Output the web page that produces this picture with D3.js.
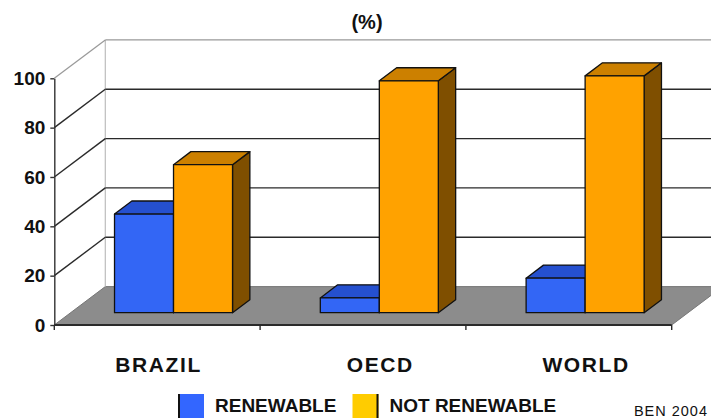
<!DOCTYPE html>
<html>
<head>
<meta charset="utf-8">
<script src="https://cdn.jsdelivr.net/npm/d3@7"></script>
<style>
  html, body { margin: 0; padding: 0; background: #fff; }
  svg { display: block; font-family: "Liberation Sans", Arial, sans-serif; }
</style>
</head>
<body>
<svg id="chart" width="711" height="418"></svg>
<script>
// ---- data ----
const categories = ["BRAZIL", "OECD", "WORLD"];
const series = ["RENEWABLE", "NOT RENEWABLE"];
const renewable = [40, 6, 14];
const notRenewable = [60, 94, 96];
const yTicks = [0, 20, 40, 60, 80, 100];
const titleText = "(%)";
const sourceText = "BEN 2004";

// ---- layout ----
const W = 711, H = 418;
const svg = d3.select("#chart");
const DX = 51, DY = 38.4;          // depth offset of back wall
const d0 = 0.32, d1 = 0.66;        // bar front / back depth fractions

const y = d3.scaleLinear().domain([0, 100]).range([325, 78.3]);
const x0 = d3.scaleBand().domain(categories).range([54.3, 671.7]).padding(0);
const x1 = d3.scaleBand().domain(series).range([0, x0.bandwidth()]).paddingInner(0).paddingOuter(0.744);

const P = (x, v, d) => [x + d * DX, y(v) - d * DY];
const poly = pts => pts.map(p => p.join(",")).join(" ");

const colors = {
  "RENEWABLE": { front: "#3366f5", top: "#2550cf", side: "#1a3a99", legend: "#3366ff" },
  "NOT RENEWABLE": { front: "#ffa200", top: "#cc8000", side: "#7f4f00", legend: "#ffcc00" }
};

const xL = x0.range()[0], xR = x0.range()[1];

svg.append("defs").append("clipPath").attr("id", "clip")
  .append("rect").attr("x", 0).attr("y", 0).attr("width", W).attr("height", H);

const g = svg.append("g").attr("clip-path", "url(#clip)");

// floor
g.append("polygon")
  .attr("points", poly([P(xL, 0, 0), P(xR, 0, 0), P(xR, 0, 1), P(xL, 0, 1)]))
  .attr("fill", "#8c8c8c").attr("stroke", "#777").attr("stroke-width", 1);

// back wall left edge
g.append("line")
  .attr("x1", P(xL, 0, 1)[0]).attr("y1", P(xL, 0, 1)[1])
  .attr("x2", P(xL, 100, 1)[0]).attr("y2", P(xL, 100, 1)[1])
  .attr("stroke", "#bdbdbd").attr("stroke-width", 1.2);

// gridlines (left wall diagonal + back wall horizontal)
yTicks.filter(t => t > 0).forEach(t => {
  const col = t === 100 ? "#999" : "#2a2a2a";
  const sw = t === 100 ? 1.2 : 1.4;
  g.append("line")
    .attr("x1", P(xL, t, 0)[0]).attr("y1", P(xL, t, 0)[1])
    .attr("x2", P(xL, t, 1)[0]).attr("y2", P(xL, t, 1)[1])
    .attr("stroke", col).attr("stroke-width", sw);
  g.append("line")
    .attr("x1", P(xL, t, 1)[0]).attr("y1", P(xL, t, 1)[1])
    .attr("x2", W + 5).attr("y2", P(xL, t, 1)[1])
    .attr("stroke", col).attr("stroke-width", sw);
});

// bars
const data = categories.map((c, i) => ({ c, vals: [
  { s: series[0], v: renewable[i] },
  { s: series[1], v: notRenewable[i] }
]}));

data.forEach(d => {
  d.vals.forEach(b => {
    const xa = x0(d.c) + x1(b.s);
    const xb = xa + x1.bandwidth();
    const col = colors[b.s];
    const bg = g.append("g").attr("stroke", "#111").attr("stroke-width", 1.3).attr("stroke-linejoin", "round");
    bg.append("polygon")
      .attr("points", poly([P(xb, 0, d0), P(xb, 0, d1), P(xb, b.v, d1), P(xb, b.v, d0)]))
      .attr("fill", col.side);
    bg.append("polygon")
      .attr("points", poly([P(xa, b.v, d0), P(xb, b.v, d0), P(xb, b.v, d1), P(xa, b.v, d1)]))
      .attr("fill", col.top);
    const f0 = P(xa, b.v, d0), f1 = P(xb, 0, d0);
    bg.append("rect")
      .attr("x", f0[0]).attr("y", f0[1])
      .attr("width", f1[0] - f0[0]).attr("height", f1[1] - f0[1])
      .attr("fill", col.front);
  });
});

// y axis
const yAxis = svg.append("g")
  .attr("transform", `translate(${xL},0)`)
  .call(d3.axisLeft(y).tickValues(yTicks).tickSize(4).tickSizeOuter(0).tickPadding(5));
yAxis.select(".domain").attr("stroke", "#333").attr("stroke-width", 1.4);
yAxis.selectAll(".tick line").attr("stroke", "#333").attr("stroke-width", 1.4);
yAxis.selectAll(".tick text")
  .attr("font-family", "Liberation Sans, Arial, sans-serif")
  .attr("font-size", 19).attr("font-weight", "bold").attr("fill", "#111");

// x axis (front floor edge)
svg.append("line").attr("x1", xL).attr("x2", xR).attr("y1", y(0)).attr("y2", y(0))
  .attr("stroke", "#2a2a2a").attr("stroke-width", 2);
const bounds = categories.map(c => x0(c)).concat([xR]);
svg.selectAll(".xtick").data(bounds).enter().append("line")
  .attr("x1", d => d).attr("x2", d => d).attr("y1", y(0)).attr("y2", y(0) + 5)
  .attr("stroke", "#2a2a2a").attr("stroke-width", 1.4);

// category labels
const labelNudge = { "BRAZIL": -16 };
svg.selectAll(".cat").data(categories).enter().append("text")
  .attr("x", c => x0(c) + x0.bandwidth() / 2 + d0 * DX + 1 + (labelNudge[c] || 0))
  .attr("y", 372)
  .attr("text-anchor", "middle")
  .attr("font-size", 21).attr("font-weight", "bold")
  .attr("letter-spacing", "1.6px").attr("fill", "#111")
  .text(c => c);

// title
svg.append("text").attr("x", 367).attr("y", 29).attr("text-anchor", "middle")
  .attr("font-size", 20).attr("font-weight", "bold").attr("fill", "#111").text(titleText);

// legend
const legendX = [178, 352.5];
const lg = svg.selectAll(".leg").data(series).enter().append("g")
  .attr("transform", (s, i) => `translate(${legendX[i]},394)`);
lg.append("rect").attr("width", 26).attr("height", 30).attr("fill", s => colors[s].legend);
lg.append("line")
  .attr("x1", (s, i) => i === 0 ? 1 : 25).attr("x2", (s, i) => i === 0 ? 1 : 25)
  .attr("y1", 0).attr("y2", 30).attr("stroke", "#111").attr("stroke-width", 2);
lg.append("text").attr("x", 37).attr("y", 18)
  .attr("font-size", 19).attr("font-weight", "bold").attr("fill", "#111")
  .text(s => s);

// source
svg.append("text").attr("x", 708).attr("y", 416).attr("text-anchor", "end")
  .attr("font-size", 14.5).attr("letter-spacing", "1px").attr("fill", "#111").text(sourceText);
</script>
</body>
</html>
